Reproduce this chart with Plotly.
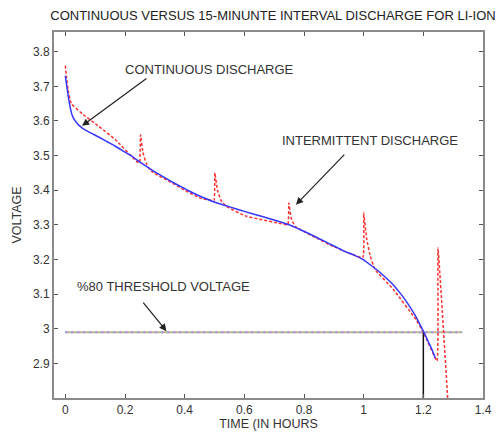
import plotly.graph_objects as go

# Continuous discharge (hours, volts)
t_cont = [0.0, 0.005, 0.01, 0.015, 0.02, 0.025, 0.035, 0.045, 0.058, 0.08,
          0.113, 0.14, 0.168, 0.2, 0.222, 0.25, 0.277, 0.3, 0.332, 0.36,
          0.386, 0.41, 0.441, 0.47, 0.496, 0.525, 0.551, 0.6, 0.66, 0.7,
          0.748, 0.78, 0.803, 0.84, 0.879, 0.91, 0.934, 0.97, 1.0, 1.02,
          1.043, 1.07, 1.098, 1.125, 1.153, 1.175, 1.197, 1.21, 1.219, 1.23,
          1.24]
v_cont = [3.73, 3.70, 3.67, 3.645, 3.625, 3.612, 3.598, 3.588, 3.579, 3.568,
          3.553, 3.54, 3.527, 3.51, 3.499, 3.481, 3.466, 3.453, 3.437, 3.423,
          3.411, 3.40, 3.387, 3.376, 3.367, 3.359, 3.352, 3.339, 3.324, 3.314,
          3.301, 3.289, 3.28, 3.265, 3.248, 3.235, 3.224, 3.212, 3.199, 3.186,
          3.171, 3.151, 3.128, 3.10, 3.066, 3.035, 2.998, 2.975, 2.958, 2.938,
          2.915]

# Intermittent (15-minute interval) discharge
t_int = [0.0, 0.004, 0.009, 0.02, 0.058, 0.113, 0.168, 0.239, 0.249, 0.252,
         0.26, 0.27, 0.283, 0.3, 0.35, 0.4, 0.45, 0.498, 0.501, 0.51,
         0.522, 0.54, 0.606, 0.715, 0.746, 0.749, 0.757, 0.77, 0.83, 0.9,
         0.997, 1.0, 1.01, 1.022, 1.038, 1.098, 1.175, 1.2, 1.246, 1.249,
         1.283]
v_int = [3.76, 3.725, 3.69, 3.65, 3.62, 3.584, 3.546, 3.483, 3.48, 3.56,
         3.51, 3.48, 3.46, 3.448, 3.425, 3.40, 3.378, 3.37, 3.45, 3.40,
         3.37, 3.353, 3.325, 3.305, 3.30, 3.363, 3.32, 3.296, 3.267, 3.237,
         3.205, 3.335, 3.26, 3.21, 3.171, 3.115, 3.027, 2.99, 2.907, 3.233,
         2.78]

# 80% threshold voltage and the time it is reached
threshold_v = 2.99
threshold_t = [0.0, 1.33]
cutoff_t = 1.2

x_ticks = [0, 0.2, 0.4, 0.6, 0.8, 1.0, 1.2, 1.4]
x_labels = ["0", "0.2", "0.4", "0.6", "0.8", "1", "1.2", "1.4"]
y_ticks = [2.9, 3.0, 3.1, 3.2, 3.3, 3.4, 3.5, 3.6, 3.7, 3.8]
y_labels = ["2.9", "3", "3.1", "3.2", "3.3", "3.4", "3.5", "3.6", "3.7", "3.8"]

FONT = "Liberation Sans, Arial, sans-serif"
AXIS_GRAY = "#8a8a8a"

fig = go.Figure()

# threshold: speckled multicolour dotted line
fig.add_trace(go.Scatter(x=threshold_t, y=[threshold_v] * 2, mode="lines",
                         line=dict(color="#b8b890", width=2), hoverinfo="skip"))
fig.add_trace(go.Scatter(x=threshold_t, y=[threshold_v] * 2, mode="lines",
                         line=dict(color="#e070e0", width=2, dash="2px,4px"),
                         hoverinfo="skip"))
fig.add_trace(go.Scatter(x=threshold_t, y=[threshold_v] * 2, mode="lines",
                         line=dict(color="#60c8e0", width=2, dash="1px,5px"),
                         hoverinfo="skip"))

# vertical marker where the cell crosses the threshold
fig.add_trace(go.Scatter(x=[cutoff_t, cutoff_t], y=[2.8, threshold_v], mode="lines",
                         line=dict(color="#111111", width=1.5), hoverinfo="skip"))

fig.add_trace(go.Scatter(x=t_int, y=v_int, mode="lines",
                         line=dict(color="#ff3030", width=1.5, dash="3px,2px",
                                   shape="spline", smoothing=0.3)))
fig.add_trace(go.Scatter(x=t_cont, y=v_cont, mode="lines",
                         line=dict(color="#3636ff", width=1.5,
                                   shape="spline", smoothing=0.6)))

txt = dict(family=FONT, size=13, color="#333333")
annotations = [
    dict(x=0.056, y=3.586, ax=0.277, ay=3.726, axref="x", ayref="y",
         showarrow=True, arrowhead=2, arrowsize=1.2, arrowwidth=1.2,
         arrowcolor="#222222", text=""),
    dict(x=0.482, y=3.749, text="CONTINUOUS DISCHARGE", showarrow=False, font=txt),
    dict(x=0.773, y=3.358, ax=0.94, ay=3.507, axref="x", ayref="y",
         showarrow=True, arrowhead=2, arrowsize=1.2, arrowwidth=1.2,
         arrowcolor="#222222", text=""),
    dict(x=1.021, y=3.545, text="INTERMITTENT DISCHARGE", showarrow=False, font=txt),
    dict(x=0.339, y=2.993, ax=0.257, ay=3.08, axref="x", ayref="y",
         showarrow=True, arrowhead=2, arrowsize=1.2, arrowwidth=1.2,
         arrowcolor="#222222", text=""),
    dict(x=0.328, y=3.122, text="%80 THRESHOLD VOLTAGE", showarrow=False, font=txt),
]

axis_common = dict(showline=True, linecolor=AXIS_GRAY, linewidth=2, mirror="ticks",
                   ticks="inside", ticklen=4, tickcolor="#555555", tickwidth=1,
                   showgrid=False, zeroline=False,
                   tickfont=dict(family=FONT, size=12, color="#333333"))

fig.update_layout(
    width=499, height=436,
    margin=dict(l=54, r=7, t=32, b=38),
    paper_bgcolor="white", plot_bgcolor="white",
    showlegend=False,
    title=dict(text="CONTINUOUS VERSUS 15-MINUNTE INTERVAL DISCHARGE FOR LI-ION",
               x=273 / 499, xanchor="center", y=1 - 15 / 436, yanchor="middle",
               yref="container", font=dict(family=FONT, size=13, color="#222222")),
    xaxis=dict(range=[-0.038, 1.4], tickvals=x_ticks, ticktext=x_labels,
               title=dict(text="TIME (IN HOURS", standoff=3,
                          font=dict(family=FONT, size=12.5, color="#333333")),
               **axis_common),
    yaxis=dict(range=[2.8, 3.857], tickvals=y_ticks, ticktext=y_labels,
               title=dict(text="VOLTAGE", standoff=9,
                          font=dict(family=FONT, size=12.5, color="#333333")),
               **axis_common),
    annotations=annotations,
)

fig.write_html("out.html")
